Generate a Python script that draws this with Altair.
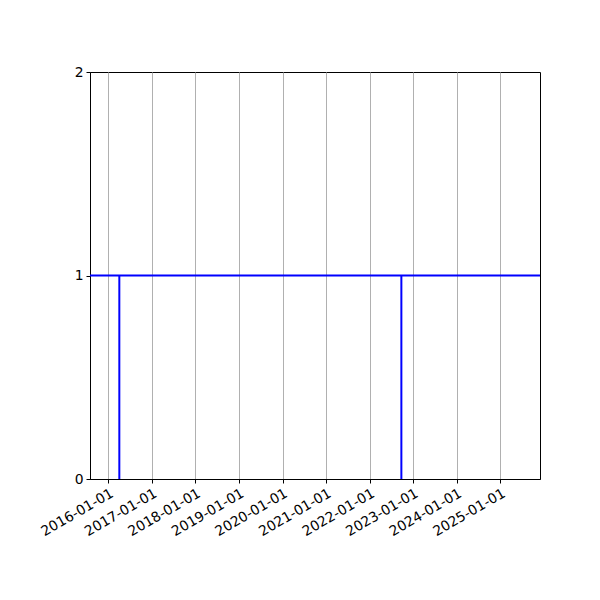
import altair as alt
import pandas as pd

# dates where the series drops from 1 to 0
drop_dates = ["2016-04-02", "2022-09-24"]
level = 1
y_max = 2
tick_years = list(range(2016, 2026))

drops = pd.DataFrame({"date": drop_dates, "low": [0] * len(drop_dates), "high": [level] * len(drop_dates)})
flat = pd.DataFrame({"level": [level]})

x_scale = alt.Scale(
    type="utc",
    domain=[
        alt.DateTime(year=2015, month=7, date=31, utc=True),
        alt.DateTime(year=2025, month=11, date=30, utc=True),
    ],
)
x_axis = alt.Axis(
    title=None,
    values=[alt.DateTime(year=y, month=1, date=1, utc=True) for y in tick_years],
    format="%Y-%m-%d",
    labelAngle=-30,
    labelAlign="right",
    labelBaseline="top",
    labelOverlap=False,
    grid=True,
    gridColor="#b0b0b0",
    gridWidth=1,
)
y_scale = alt.Scale(domain=[0, y_max], nice=False)
y_axis = alt.Axis(title=None, tickCount=y_max, format="d", grid=False)

vlines = (
    alt.Chart(drops)
    .mark_rule(color="#0000ff", strokeWidth=2)
    .encode(
        x=alt.X("date:T", scale=x_scale, axis=x_axis),
        y=alt.Y("low:Q", scale=y_scale, axis=y_axis),
        y2="high:Q",
    )
)

hline = (
    alt.Chart(flat)
    .mark_rule(color="#0000ff", strokeWidth=2)
    .encode(y=alt.Y("level:Q", scale=y_scale, axis=y_axis))
)

chart = (
    alt.layer(vlines, hline)
    .properties(
        width=450,
        height=407,
        autosize=alt.AutoSizeParams(type="none"),
        padding={"left": 82, "top": 64, "right": 52, "bottom": 113},
    )
    .configure_view(stroke="black", strokeWidth=1)
    .configure_axis(
        domainColor="black",
        tickColor="black",
        tickSize=4,
        labelColor="black",
        labelFont="DejaVu Sans",
        labelFontSize=13.9,
        labelPadding=3,
    )
)

chart.save("out.html", embed_options={"renderer": "svg", "actions": False})
